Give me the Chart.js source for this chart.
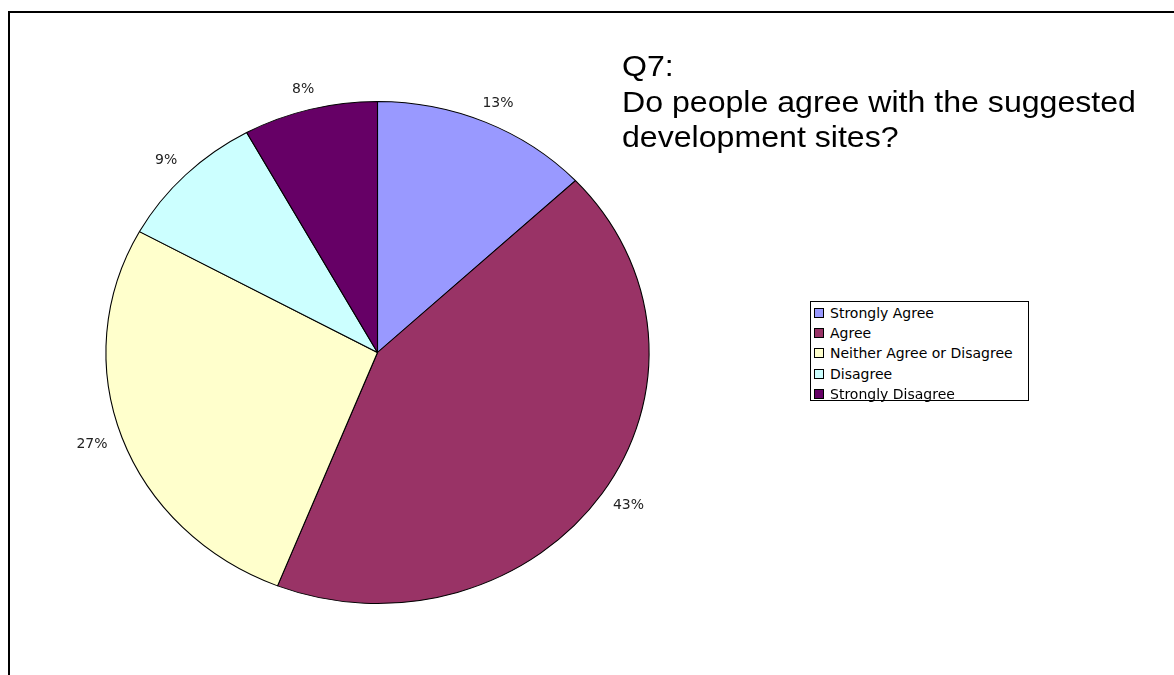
<!DOCTYPE html>
<html>
<head>
<meta charset="utf-8">
<title>Q7 Development sites</title>
<script src="https://cdn.jsdelivr.net/npm/chart.js@4"></script>
<style>
    body { margin: 0; background: #fff; overflow: hidden; }
    #wrap { position: relative; width: 1174px; height: 675px; overflow: hidden; }
    #frame {
        position: absolute; left: 8px; top: 11px; width: 1300px; height: 800px;
        border-left: 2px solid #000; border-top: 2px solid #000;
    }
    #pie { position: absolute; left: 0; top: 0; }
    #title {
        position: absolute; left: 622px; top: 48px;
        font-family: "Liberation Sans", Arial, sans-serif; font-size: 30px; line-height: 35.5px;
        color: #000; transform: scaleX(1.07); transform-origin: left top; white-space: nowrap;
    }
    #legend {
        position: absolute; left: 810px; top: 301px; width: 219px; height: 100px;
        border: 1px solid #000; background: #fff; box-sizing: border-box; padding-top: 1px;
    }
    #legend .item { height: 20.2px; position: relative; }
    #legend .swatch {
        position: absolute; left: 3px; top: 5px; width: 8px; height: 8px; border: 1px solid #000;
    }
    #legend .text {
        position: absolute; left: 19px; top: 0; line-height: 20px; white-space: nowrap;
        font-family: "DejaVu Sans", Verdana, sans-serif; font-size: 14px; color: #000;
    }
</style>
</head>
<body>
<div id="wrap">
    <div id="frame"></div>
    <canvas id="pie" width="1174" height="675"></canvas>
    <div id="title">Q7:<br>Do people agree with the suggested<br>development sites?</div>
    <div id="legend"></div>
</div>
<script>
const answers = ['Strongly Agree', 'Agree', 'Neither Agree or Disagree', 'Disagree', 'Strongly Disagree'];
const shares = [13, 43, 27, 9, 8];
const sliceColors = ['#9999FF', '#993366', '#FFFFCC', '#CCFFFF', '#660066'];

// pie is a little wider than it is tall
const stretchX = 1.082;

// legend box
const legendEl = document.getElementById('legend');
answers.forEach((name, i) => {
    const row = document.createElement('div');
    row.className = 'item';
    row.innerHTML = '<span class="swatch" style="background:' + sliceColors[i] + '"></span>' +
        '<span class="text">' + name + '</span>';
    legendEl.appendChild(row);
});

const stretchPie = {
    id: 'stretchPie',
    beforeDatasetsDraw(chart) {
        const arc = chart.getDatasetMeta(0).data[0];
        const ctx = chart.ctx;
        ctx.save();
        ctx.translate(arc.x, arc.y);
        ctx.scale(stretchX, 1);
        ctx.translate(-arc.x, -arc.y);
    },
    afterDatasetsDraw(chart) {
        chart.ctx.restore();
    }
};

// percentage labels sit just outside the rim, pushed out by half their size
const percentLabels = {
    id: 'percentLabels',
    afterDraw(chart) {
        const ctx = chart.ctx;
        const values = chart.data.datasets[0].data;
        ctx.save();
        ctx.font = '14px "DejaVu Sans", Verdana, sans-serif';
        ctx.fillStyle = '#222';
        ctx.textAlign = 'center';
        ctx.textBaseline = 'middle';
        chart.getDatasetMeta(0).data.forEach((arc, i) => {
            const text = values[i] + '%';
            const mid = (arc.startAngle + arc.endAngle) / 2;
            const dx = Math.cos(mid), dy = Math.sin(mid);
            const r = arc.outerRadius * 1.06;
            const w = ctx.measureText(text).width;
            const h = 11;
            const x = arc.x + dx * r * stretchX + dx * w / 2;
            const y = arc.y + dy * r + dy * h / 2;
            ctx.fillText(text, x, y);
        });
        ctx.restore();
    }
};

new Chart(document.getElementById('pie').getContext('2d'), {
    type: 'pie',
    data: {
        labels: answers,
        datasets: [{
            data: shares,
            backgroundColor: sliceColors,
            borderColor: '#000',
            borderWidth: 1
        }]
    },
    options: {
        responsive: false,
        devicePixelRatio: 1,
        animation: false,
        events: [],
        layout: { padding: { left: 126, right: 545, top: 101, bottom: 71 } },
        plugins: {
            legend: { display: false },
            title: { display: false },
            tooltip: { enabled: false }
        }
    },
    plugins: [stretchPie, percentLabels]
});
</script>
</body>
</html>
